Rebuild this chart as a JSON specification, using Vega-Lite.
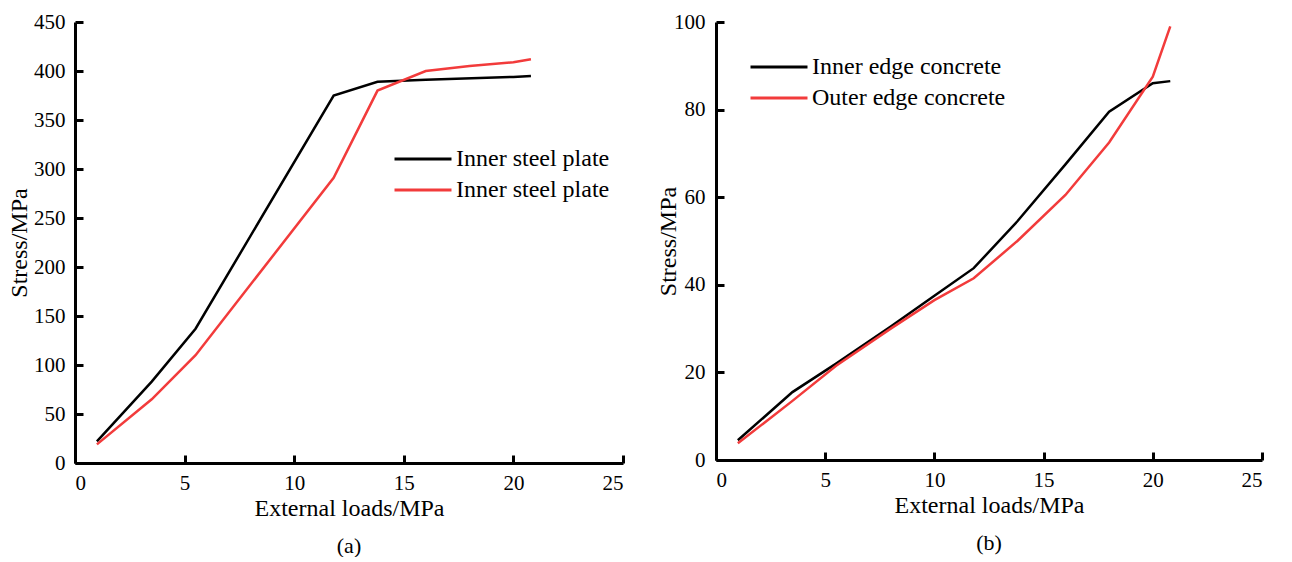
{
  "$schema": "https://vega.github.io/schema/vega-lite/v6.json",
  "background": "white",
  "padding": {"left": 7, "top": 11, "right": 0, "bottom": 0},
  "spacing": 31,
  "config": {
    "font": "Liberation Serif",
    "view": {"stroke": null},
    "axis": {
      "grid": false,
      "domainColor": "black",
      "domainWidth": 3,
      "tickColor": "black",
      "tickWidth": 3,
      "tickSize": -8,
      "labelFont": "Liberation Serif",
      "labelFontSize": 21,
      "labelColor": "black",
      "titleFont": "Liberation Serif",
      "titleFontSize": 24,
      "titleFontWeight": "normal",
      "titleColor": "black",
      "labelPadding": 17
    },
    "legend": {
      "labelFont": "Liberation Serif",
      "labelFontSize": 24,
      "labelColor": "black",
      "labelLimit": 400,
      "symbolType": "M-2,0H2",
      "symbolStrokeWidth": 3,
      "symbolSize": 812,
      "labelOffset": 17,
      "rowPadding": 3
    },
    "title": {"font": "Liberation Serif", "fontSize": 22, "fontWeight": "normal", "color": "black"}
  },
  "datasets": {
    "a": [
      {"x": 1, "y": 22, "s": "s1"}, {"x": 3.5, "y": 83, "s": "s1"}, {"x": 5.5, "y": 137, "s": "s1"},
      {"x": 11.8, "y": 375, "s": "s1"}, {"x": 13.8, "y": 389, "s": "s1"}, {"x": 16, "y": 391, "s": "s1"},
      {"x": 20, "y": 394, "s": "s1"}, {"x": 20.8, "y": 395, "s": "s1"},
      {"x": 1, "y": 19, "s": "s2"}, {"x": 3.5, "y": 65, "s": "s2"}, {"x": 5.5, "y": 110, "s": "s2"},
      {"x": 11.8, "y": 291, "s": "s2"}, {"x": 13.8, "y": 380, "s": "s2"}, {"x": 16, "y": 400, "s": "s2"},
      {"x": 18, "y": 405, "s": "s2"}, {"x": 20, "y": 409, "s": "s2"}, {"x": 20.8, "y": 412, "s": "s2"}
    ],
    "b": [
      {"x": 1, "y": 4.5, "s": "Inner edge concrete"}, {"x": 3.5, "y": 15.5, "s": "Inner edge concrete"},
      {"x": 5.5, "y": 22, "s": "Inner edge concrete"}, {"x": 8, "y": 30.5, "s": "Inner edge concrete"},
      {"x": 10, "y": 37.5, "s": "Inner edge concrete"}, {"x": 11.8, "y": 43.8, "s": "Inner edge concrete"},
      {"x": 13.8, "y": 54.5, "s": "Inner edge concrete"}, {"x": 16, "y": 67.5, "s": "Inner edge concrete"},
      {"x": 18, "y": 79.5, "s": "Inner edge concrete"}, {"x": 20, "y": 86, "s": "Inner edge concrete"},
      {"x": 20.8, "y": 86.5, "s": "Inner edge concrete"},
      {"x": 1, "y": 3.8, "s": "Outer edge concrete"}, {"x": 3.5, "y": 13.5, "s": "Outer edge concrete"},
      {"x": 5.5, "y": 21.5, "s": "Outer edge concrete"}, {"x": 8, "y": 30, "s": "Outer edge concrete"},
      {"x": 10, "y": 36.5, "s": "Outer edge concrete"}, {"x": 11.8, "y": 41.5, "s": "Outer edge concrete"},
      {"x": 13.8, "y": 50, "s": "Outer edge concrete"}, {"x": 16, "y": 60.5, "s": "Outer edge concrete"},
      {"x": 18, "y": 72.5, "s": "Outer edge concrete"}, {"x": 20, "y": 87.5, "s": "Outer edge concrete"},
      {"x": 20.8, "y": 99, "s": "Outer edge concrete"}
    ]
  },
  "hconcat": [
    {
      "width": 548,
      "height": 441,
      "data": {"name": "a"},
      "title": {"text": "(a)", "orient": "bottom", "offset": 16},
      "mark": {"type": "line", "strokeWidth": 2.5},
      "encoding": {
        "x": {"field": "x", "type": "quantitative", "scale": {"domain": [0, 25]},
              "axis": {"values": [0, 5, 10, 15, 20, 25], "title": "External loads/MPa", "titlePadding": 3}},
        "y": {"field": "y", "type": "quantitative", "scale": {"domain": [0, 450]},
              "axis": {"values": [0, 50, 100, 150, 200, 250, 300, 350, 400, 450], "title": "Stress/MPa", "titlePadding": 2, "labelPadding": 18}},
        "color": {"field": "s", "type": "nominal",
                  "scale": {"domain": ["s1", "s2"], "range": ["black", "#f23b3b"]},
                  "legend": {"orient": "none", "legendX": 332, "legendY": 121, "title": null, "labelExpr": "'Inner steel plate'"}}
      }
    },
    {
      "width": 546,
      "height": 438,
      "data": {"name": "b"},
      "title": {"text": "(b)", "orient": "bottom", "offset": 16},
      "mark": {"type": "line", "strokeWidth": 2.5},
      "encoding": {
        "x": {"field": "x", "type": "quantitative", "scale": {"domain": [0, 25]},
              "axis": {"values": [0, 5, 10, 15, 20, 25], "title": "External loads/MPa", "titlePadding": 3}},
        "y": {"field": "y", "type": "quantitative", "scale": {"domain": [0, 100]},
              "axis": {"values": [0, 20, 40, 60, 80, 100], "title": "Stress/MPa", "titlePadding": -7, "labelPadding": 19}},
        "color": {"field": "s", "type": "nominal",
                  "scale": {"domain": ["Inner edge concrete", "Outer edge concrete"], "range": ["black", "#f23b3b"]},
                  "legend": {"orient": "none", "legendX": 47, "legendY": 29, "title": null}}
      }
    }
  ],
  "resolve": {"scale": {"color": "independent"}, "legend": {"color": "independent"}}
}
